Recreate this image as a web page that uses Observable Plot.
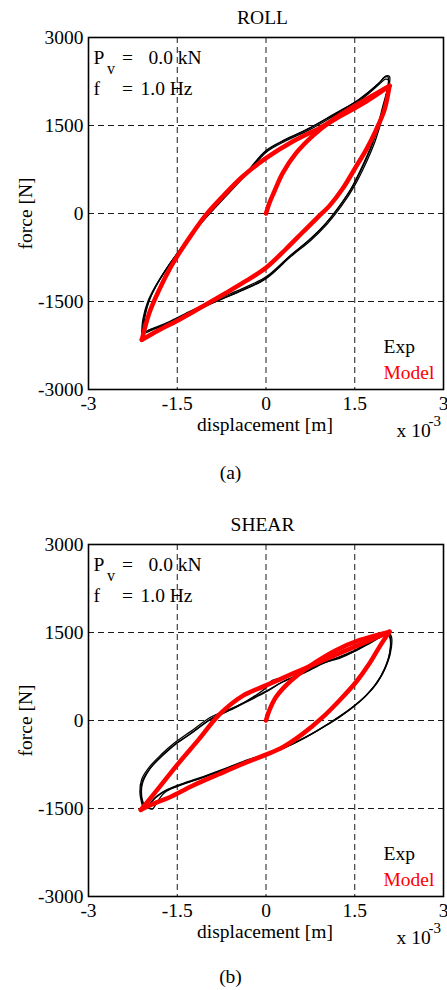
<!DOCTYPE html>
<html>
<head>
<meta charset="utf-8">
<script src="https://cdn.jsdelivr.net/npm/d3@7"></script>
<script src="https://cdn.jsdelivr.net/npm/@observablehq/plot@0.6"></script>
<style>
  html, body { margin: 0; padding: 0; background: #fff; }
  #root { position: relative; width: 447px; height: 990px; overflow: hidden; background: #fff; }
  #root > div { position: absolute; left: 0; }
</style>
</head>
<body>
<div id="root">
  <div id="pa" style="top:0px"></div>
  <div id="pb" style="top:507px"></div>
</div>
<script>
// ---------- axes ----------
const xTicks = [-3, -1.5, 0, 1.5, 3];
const xTickLabels = ["-3", "-1.5", "0", "1.5", "3"];
const yTicks = [-3000, -1500, 0, 1500, 3000];
const yTickLabels = ["-3000", "-1500", "0", "1500", "3000"];
const gridX = [-1.5, 0, 1.5];
const gridY = [-1500, 0, 1500];

// ---------- ROLL (a): displacement [x 1e-3 m], force [N] ----------
const rollModelInit = [[0,0],[0.056,176],[0.141,375],[0.282,688],[0.508,1028],[0.79,1324],[1.128,1597],[1.579,1881],[2.087,2176]];
const rollModelDown = [[2.087,2176],[2.002,1767],[1.861,1426],[1.692,1085],[1.523,801],[1.297,425],[1.072,130],[0.874,-65],[0.62,-320],[0.338,-605],[0,-925],[-0.338,-1150],[-0.677,-1355],[-1.072,-1585],[-1.466,-1810],[-1.805,-1985],[-2.098,-2153]];
const rollModelUp = [[-2.098,-2153],[-1.974,-1699],[-1.805,-1301],[-1.636,-960],[-1.466,-676],[-1.241,-335],[-1.015,-23],[-0.733,290],[-0.395,631],[0,943],[0.451,1227],[0.902,1455],[1.297,1682],[1.692,1909],[2.087,2176]];
const rollExp1 = [[-2.087,-2011],[-2.059,-1756],[-1.974,-1472],[-1.861,-1244],[-1.692,-960],[-1.495,-676],[-1.241,-335],[-0.959,6],[-0.677,318],[-0.338,688],[0,1074],[0.338,1267],[0.733,1455],[1.128,1682],[1.579,1949],[1.918,2233],[2.03,2347],[2.087,2335],[2.087,2222],[2.002,1881],[1.918,1540],[1.805,1199],[1.636,801],[1.466,460],[1.241,119],[1.015,-165],[0.733,-449],[0.395,-733],[0,-1102],[-0.395,-1301],[-0.79,-1472],[-1.241,-1670],[-1.636,-1869],[-1.918,-1983],[-2.059,-2040],[-2.087,-2011]];
const rollExp2 = [[-2.06,-1985],[-2.04,-1730],[-1.96,-1450],[-1.85,-1215],[-1.68,-935],[-1.48,-650],[-1.22,-310],[-0.93,20],[-0.65,325],[-0.32,680],[0,1040],[0.34,1240],[0.74,1430],[1.14,1660],[1.58,1920],[1.9,2190],[2.02,2290],[2.07,2275],[2.06,2160],[1.98,1850],[1.89,1500],[1.78,1160],[1.61,770],[1.44,430],[1.22,100],[1.0,-180],[0.72,-460],[0.38,-745],[0,-1080],[-0.4,-1280],[-0.8,-1450],[-1.25,-1650],[-1.65,-1850],[-1.93,-1965],[-2.04,-2010],[-2.06,-1985]];
const rollExp3 = [[-2.1,-2030],[-2.08,-1800],[-2.0,-1510],[-1.88,-1260],[-1.71,-985],[-1.51,-700],[-1.26,-360],[-0.97,-15],[-0.69,300],[-0.35,670],[0,1060],[0.33,1255],[0.72,1445],[1.12,1670],[1.56,1935],[1.9,2210],[2.0,2320],[2.06,2330],[2.07,2250],[2.03,2000],[1.96,1620],[1.85,1250],[1.68,840],[1.5,480],[1.27,120],[1.04,-170],[0.76,-455],[0.42,-735],[0,-1110],[-0.4,-1310],[-0.8,-1480],[-1.24,-1680],[-1.6,-1860],[-1.85,-1950],[-1.97,-1985],[-2.05,-2020],[-2.1,-2030]];

// ---------- SHEAR (b) ----------
const shearModelInit = [[0,0],[0.056,171],[0.169,399],[0.338,599],[0.564,798],[0.846,998],[1.184,1198],[1.579,1369],[2.087,1511]];
const shearModelDown = [[2.087,1511],[1.918,1255],[1.748,970],[1.523,656],[1.241,342],[0.959,57],[0.62,-228],[0.282,-456],[0,-582],[-0.395,-741],[-0.79,-912],[-1.241,-1112],[-1.636,-1312],[-1.918,-1426],[-2.115,-1523]];
const shearModelUp = [[-2.115,-1523],[-1.805,-1141],[-1.466,-713],[-1.128,-314],[-0.79,100],[-0.395,420],[0,599],[0.451,798],[0.902,998],[1.297,1169],[1.692,1340],[2.087,1511]];
const shearExp1 = [[-2.059,-1483],[-2.115,-1255],[-2.087,-1027],[-1.946,-798],[-1.748,-599],[-1.523,-399],[-1.241,-200],[-0.902,46],[-0.62,171],[-0.338,314],[0,485],[0.282,656],[0.62,798],[0.959,970],[1.241,1084],[1.523,1209],[1.748,1340],[1.918,1426],[2.059,1483],[2.098,1397],[2.087,1141],[2.002,884],[1.861,627],[1.664,399],[1.438,200],[1.241,57],[1.015,-86],[0.677,-285],[0.338,-456],[0,-582],[-0.395,-713],[-0.733,-844],[-1.072,-969],[-1.41,-1084],[-1.692,-1198],[-1.861,-1312],[-1.974,-1426],[-2.059,-1483]];
const shearExp2 = [[-2.04,-1500],[-2.1,-1300],[-2.09,-1080],[-1.98,-850],[-1.8,-640],[-1.57,-430],[-1.28,-230],[-0.95,10],[-0.65,160],[-0.33,330],[0,560],[0.1,680],[0.3,730],[0.62,840],[0.96,990],[1.25,1080],[1.52,1190],[1.76,1320],[1.94,1420],[2.06,1470],[2.1,1420],[2.1,1200],[2.03,930],[1.89,660],[1.69,420],[1.46,220],[1.25,70],[1.02,-80],[0.69,-270],[0.35,-440],[0,-570],[-0.39,-700],[-0.72,-830],[-1.06,-955],[-1.4,-1070],[-1.68,-1180],[-1.85,-1290],[-1.96,-1410],[-2.04,-1500]];
const shearExp3 = [[-2.08,-1490],[-2.13,-1230],[-2.1,-1000],[-1.96,-780],[-1.77,-580],[-1.55,-385],[-1.27,-185],[-0.93,60],[-0.63,185],[-0.34,320],[0,500],[0.28,660],[0.62,810],[0.95,975],[1.24,1060],[1.52,1190],[1.75,1330],[1.93,1440],[2.06,1500],[2.12,1430],[2.12,1250],[2.06,1000],[1.93,730],[1.74,480],[1.5,260],[1.3,110],[1.06,-50],[0.72,-260],[0.36,-440],[0,-590],[-0.4,-725],[-0.74,-855],[-1.08,-980],[-1.42,-1095],[-1.7,-1220],[-1.8,-1330],[-1.88,-1460],[-1.92,-1510],[-2.0,-1490],[-2.08,-1490]];

// ---------- drawing ----------
const FONT = '"Liberation Serif", "Times New Roman", Times, serif';
const FS = 19.5;
const RED = "#ff0000";

function panel(title, caption, capDy, height, modelParts, expCycles) {
  const model = modelParts.flatMap((pts, k) => pts.map(([x, y]) => ({x, y, part: k})));
  const exp = expCycles.flatMap((pts, k) => pts.map(([x, y]) => ({x, y, cycle: k})));
  const txt = (s, o) => Plot.text([s], {text: d => d, fontSize: FS, fill: "black", ...o});
  const tl = {frameAnchor: "top-left", textAnchor: "start", lineAnchor: "bottom"};
  const br = {frameAnchor: "bottom-right", textAnchor: "start", lineAnchor: "bottom"};
  return Plot.plot({
    width: 447,
    height,
    marginTop: 37,
    marginLeft: 88,
    marginRight: 4,
    marginBottom: height - 37 - 352,
    style: {fontFamily: FONT, fontSize: FS + "px", background: "white", color: "black", overflow: "visible"},
    x: {domain: [-3, 3], ticks: xTicks, tickFormat: d => xTickLabels[xTicks.indexOf(d)], tickSize: 0, tickPadding: 7, label: null},
    y: {domain: [-3000, 3000], ticks: yTicks, tickFormat: d => yTickLabels[yTicks.indexOf(d)], tickSize: 0, tickPadding: 5, label: null},
    marks: [
      Plot.ruleX(gridX, {stroke: "#1a1a1a", strokeWidth: 1, strokeDasharray: "6,4"}),
      Plot.ruleY(gridY, {stroke: "#1a1a1a", strokeWidth: 1, strokeDasharray: "6,4"}),
      Plot.line(exp, {x: "x", y: "y", z: "cycle", stroke: "black", strokeWidth: 1.3, curve: "catmull-rom"}),
      Plot.line(model, {x: "x", y: "y", z: "part", stroke: RED, strokeWidth: 4.5, curve: "catmull-rom", strokeLinejoin: "round", strokeLinecap: "round"}),
      Plot.frame({stroke: "black", strokeWidth: 1.6}),
      txt(title, {frameAnchor: "top", lineAnchor: "bottom", dx: -3.5, dy: -13.7}),
      txt("P", {...tl, dx: 5, dy: 26}),
      txt("v", {...tl, dx: 18.5, dy: 36, fontSize: 16}),
      txt("=", {...tl, dx: 33.5, dy: 26}),
      txt("0.0 kN", {...tl, dx: 60, dy: 26}),
      txt("f", {...tl, dx: 5, dy: 57}),
      txt("=", {...tl, dx: 33.5, dy: 57}),
      txt("1.0 Hz", {...tl, dx: 52, dy: 57}),
      txt("Exp", {...br, dx: -60, dy: -37}),
      txt("Model", {...br, dx: -60, dy: -11, fill: RED}),
      txt("x 10", {...br, dx: -47, dy: 47}),
      txt("-3", {...br, dx: -15, dy: 36, fontSize: 15}),
      txt("displacement [m]", {frameAnchor: "bottom", lineAnchor: "bottom", dx: -1, dy: 41}),
      txt("force [N]", {frameAnchor: "left", textAnchor: "middle", lineAnchor: "bottom", rotate: -90, dx: -57}),
      txt(caption, {frameAnchor: "bottom", lineAnchor: "bottom", dx: -35.5, dy: capDy})
    ]
  });
}

document.getElementById("pa").append(
  panel("ROLL", "(a)", 89, 490, [rollModelInit, rollModelDown, rollModelUp], [rollExp1, rollExp2, rollExp3])
);
document.getElementById("pb").append(
  panel("SHEAR", "(b)", 86.5, 483, [shearModelInit, shearModelDown, shearModelUp], [shearExp1, shearExp2, shearExp3])
);
</script>
</body>
</html>
